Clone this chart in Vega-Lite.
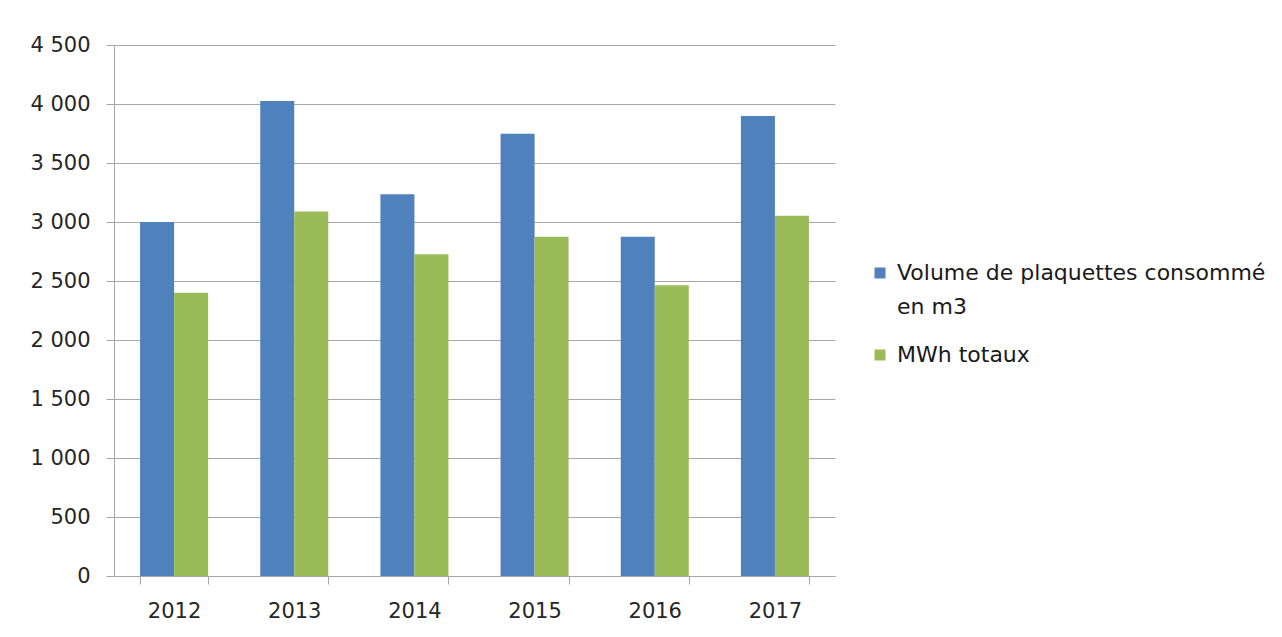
{
  "$schema": "https://vega.github.io/schema/vega-lite/v6.json",
  "width": 721,
  "height": 531,
  "autosize": {"type": "none"},
  "padding": {"left": 114, "top": 45, "right": 447, "bottom": 61},
  "background": "white",
  "data": {
    "values": [
      {"annee": "2012", "serie": "Volume de plaquettes consommé en m3", "valeur": 3000},
      {"annee": "2012", "serie": "MWh totaux", "valeur": 2400},
      {"annee": "2013", "serie": "Volume de plaquettes consommé en m3", "valeur": 4025},
      {"annee": "2013", "serie": "MWh totaux", "valeur": 3090},
      {"annee": "2014", "serie": "Volume de plaquettes consommé en m3", "valeur": 3235},
      {"annee": "2014", "serie": "MWh totaux", "valeur": 2726},
      {"annee": "2015", "serie": "Volume de plaquettes consommé en m3", "valeur": 3748},
      {"annee": "2015", "serie": "MWh totaux", "valeur": 2875},
      {"annee": "2016", "serie": "Volume de plaquettes consommé en m3", "valeur": 2875},
      {"annee": "2016", "serie": "MWh totaux", "valeur": 2463},
      {"annee": "2017", "serie": "Volume de plaquettes consommé en m3", "valeur": 3898},
      {"annee": "2017", "serie": "MWh totaux", "valeur": 3052}
    ]
  },
  "mark": {"type": "bar"},
  "encoding": {
    "x": {
      "field": "annee",
      "type": "nominal",
      "scale": {"paddingInner": 0.434, "paddingOuter": 0.217},
      "axis": {
        "title": null,
        "labelAngle": 0,
        "tickBand": "extent",
        "tickSize": 8,
        "tickColor": "#A6A6A6",
        "domainColor": "#A6A6A6",
        "labelPadding": 16,
        "labelFont": "DejaVu Sans",
        "labelFontSize": 21,
        "labelColor": "#262626"
      }
    },
    "xOffset": {
      "field": "serie",
      "type": "nominal",
      "sort": ["Volume de plaquettes consommé en m3", "MWh totaux"],
      "scale": {"paddingInner": 0, "paddingOuter": 0}
    },
    "y": {
      "field": "valeur",
      "type": "quantitative",
      "scale": {"domain": [0, 4500], "nice": false},
      "axis": {
        "title": null,
        "values": [0, 500, 1000, 1500, 2000, 2500, 3000, 3500, 4000, 4500],
        "labelExpr": "replace(format(datum.value, ','), ',', ' ')",
        "tickSize": 8,
        "tickColor": "#A6A6A6",
        "domainColor": "#A6A6A6",
        "gridColor": "#A6A6A6",
        "labelPadding": 16,
        "labelFont": "DejaVu Sans",
        "labelFontSize": 21,
        "labelColor": "#262626"
      }
    },
    "color": {
      "field": "serie",
      "type": "nominal",
      "scale": {
        "domain": ["Volume de plaquettes consommé en m3", "MWh totaux"],
        "range": ["#4F81BD", "#9BBB59"]
      },
      "legend": {
        "title": null,
        "orient": "none",
        "legendX": 755,
        "legendY": 217,
        "symbolType": "square",
        "symbolSize": 121,
        "symbolStrokeWidth": 0,
        "labelFont": "DejaVu Sans",
        "labelFontSize": 22,
        "labelColor": "#1a1a1a",
        "labelLimit": 500,
        "labelOffset": 6,
        "rowPadding": 26,
        "labelExpr": "datum.label == 'Volume de plaquettes consommé en m3' ? ['Volume de plaquettes consommé', 'en m3'] : datum.label",
        "encode": {
          "labels": {"update": {"lineHeight": {"value": 34}}}
        }
      }
    }
  },
  "config": {
    "view": {"stroke": null},
    "axis": {"gridWidth": 1, "domainWidth": 1}
  }
}
